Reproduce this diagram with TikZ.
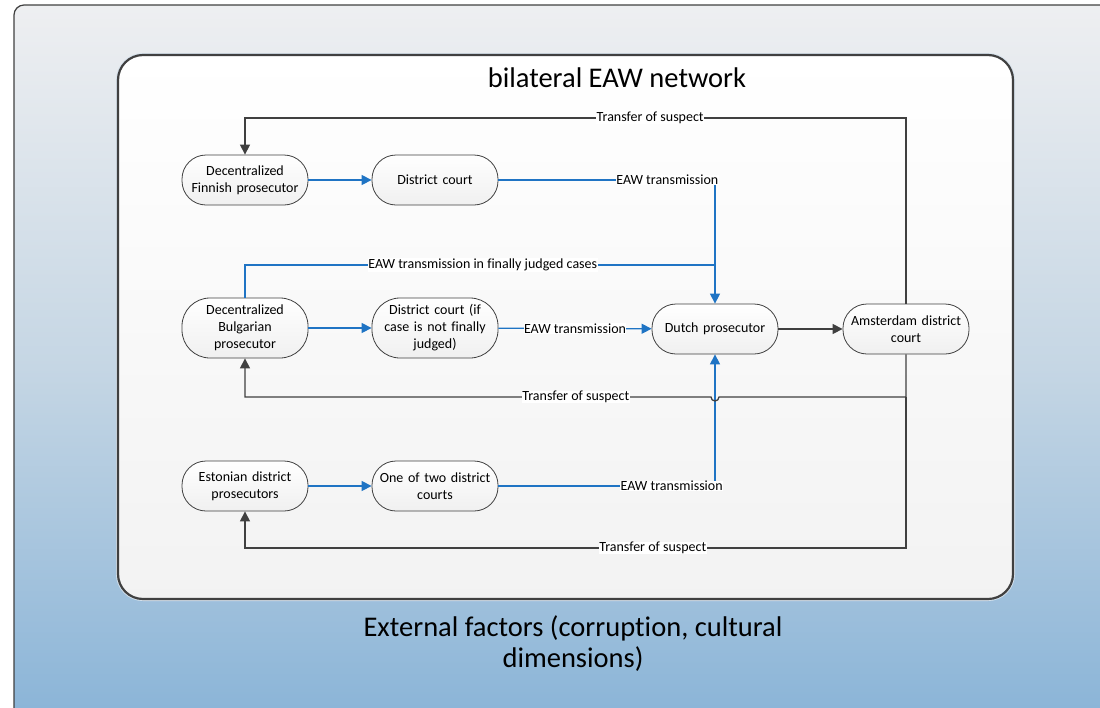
\documentclass[tikz,border=0pt]{standalone}
\usepackage{fontspec}
\setmainfont{Carlito}[Ligatures=NoCommon]
\usetikzlibrary{arrows.meta}
\definecolor{eawblue}{HTML}{1F74C4}
\definecolor{dk}{HTML}{404040}
\definecolor{bgtop}{HTML}{EEEFF1}
\definecolor{bgmid}{HTML}{C5D6E4}
\definecolor{bgbot}{HTML}{88B3D7}
\begin{document}
\begin{tikzpicture}[x=1pt,y=-1pt,
  proc/.style={rectangle, rounded corners=24pt, draw=dk, line width=0.8pt, minimum width=126pt,
    minimum height=50pt, top color=white, bottom color=black!6, align=center,
    font=\fontsize{14}{17}\selectfont, inner sep=1pt, text width=122pt},
  tall/.style={minimum height=60pt, rounded corners=28pt},
  bl/.style={draw=eawblue, line width=1.3pt},
  gr/.style={draw=dk, line width=1.3pt},
  tip/.style={-{Triangle[length=10pt,width=10pt]}},
  lab/.style={fill=white, inner sep=0.5pt, font=\fontsize{14}{16}\selectfont}]
\useasboundingbox (0,0) rectangle (1100,707);
% outer panel
\path[draw=dk, line width=1.2pt, top color=bgtop, bottom color=bgbot, middle color=bgmid, rounded corners=10pt]
  (14,730) -- (14,5) -- (1120,5) -- (1120,730);
% inner panel
\draw[line width=4pt, draw=bgmid!70, rounded corners=25pt] (118,55) rectangle (1013,599);
\path[draw=dk, line width=2.2pt, top color=white, bottom color=black!5, rounded corners=25pt]
  (118,55) rectangle (1013,599);
\node[font=\fontsize{28.5}{31}\selectfont] (title) at (617,78) {bilateral EAW network};
\node[font=\fontsize{28.5}{31}\selectfont, align=center] (ext) at (573,644)
  {External factors (corruption, cultural\\dimensions)};
% nodes
\node[proc] (fin) at (245,180) {Decentralized\\Finnish prosecutor};
\node[proc] (dcf) at (435,180) {District court};
\node[proc, tall] (bul) at (245,328) {Decentralized\\Bulgarian\\prosecutor};
\node[proc, tall] (dcb) at (435,328) {District court (if\\case is not finally\\judged)};
\node[proc] (dut) at (715,329) {Dutch prosecutor};
\node[proc] (ams) at (906,329) {Amsterdam district\\court};
\node[proc] (est) at (245,486) {Estonian district\\prosecutors};
\node[proc] (dce) at (435,486) {One of two district\\courts};
% corner coordinates
\coordinate (fjoin) at (715,180);
\coordinate (bup) at (245,265);
\coordinate (bjoin) at (715,265);
\coordinate (ejoin) at (715,486);
\coordinate (at1) at (906,118);
\coordinate (af1) at (245,118);
\coordinate (at2) at (906,397);
\coordinate (hopR) at (719,397);
\coordinate (af2) at (245,397);
\coordinate (at3) at (906,548);
\coordinate (af3) at (245,548);
% blue transmissions
\draw[bl, tip] (fin) -- (dcf);
\draw[bl, tip] (dcf) -- node[lab, pos=0.78] {EAW transmission} (fjoin) -- (dut.north);
\draw[bl] (bul.north) -- (bup) -- node[lab, pos=0.506] {EAW transmission in finally judged cases} (bjoin);
\draw[bl, tip] (bul) -- (dcb);
\draw[bl, tip] (dcb) -- node[lab, pos=0.5] {EAW transmission} (dut);
\draw[bl, tip] (dce) -- node[lab, pos=0.8] {EAW transmission} (ejoin) -- (dut.south);
\draw[bl, tip] (est) -- (dce);
% dark transfers
\draw[gr, tip] (dut) -- (ams);
\draw[gr, tip] (ams.north) -- (at1) -- node[lab, pos=0.387] {Transfer of suspect} (af1) -- (fin.north);
\draw[gr, tip] (ams.south) -- (at2) -- (hopR) arc[start angle=0, end angle=-180, radius=4pt]
  -- node[lab, pos=0.29] {Transfer of suspect} (af2) -- (bul.south);
\draw[gr, tip] (at2) -- (at3) -- node[lab, pos=0.383] {Transfer of suspect} (af3) -- (est.south);
\end{tikzpicture}
\end{document}
